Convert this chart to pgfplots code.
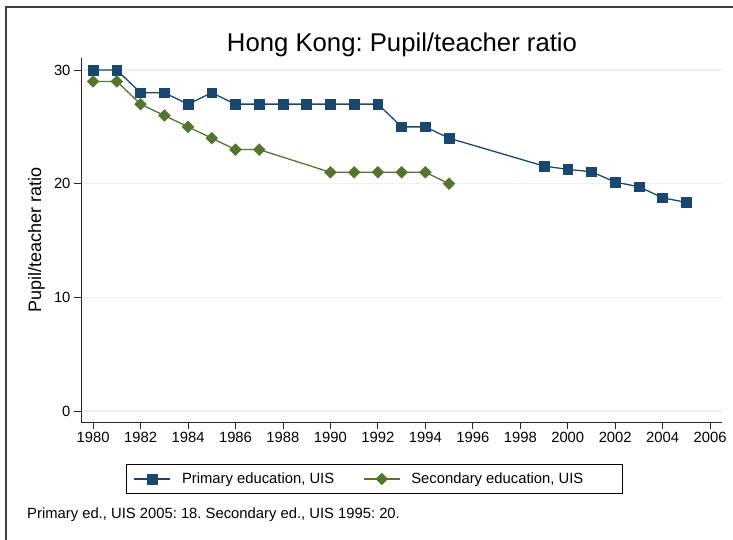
\documentclass[border=0pt]{standalone}
\usepackage{pgfplots}
\pgfplotsset{compat=1.18}
\usepackage{fontspec}
\setmainfont{Liberation Sans}
\frenchspacing
\definecolor{prim}{RGB}{26,71,111}
\definecolor{sec}{RGB}{85,117,47}
\definecolor{gridc}{RGB}{234,242,243}
\begin{document}
\frenchspacing
\begin{tikzpicture}[x=1pt,y=1pt]
\useasboundingbox (0,0) rectangle (733,540);
\draw[line width=1.2pt, black!75] (6,0) -- (6,533) -- (733,533);
\node[anchor=base, font=\fontsize{25.7}{30}\selectfont] at (402,488) {Hong Kong: Pupil/teacher ratio};
\node[anchor=base, rotate=90, font=\fontsize{18}{21}\selectfont] at (41,300) {Pupil/teacher ratio};
\node[anchor=base west, font=\fontsize{14.8}{17}\selectfont, inner sep=0pt] at (27,21) {Primary ed., UIS 2005: 18. Secondary ed., UIS 1995: 20.};
\begin{axis}[at={(81pt,118pt)}, anchor=south west, scale only axis,
  width=641pt, height=364pt,
  xmin=1979.49, xmax=2006.5, ymin=-0.97, ymax=31.06,
  axis x line*=bottom, axis y line*=left,
  axis line style={-, line width=0.8pt, black!85},
  xtick={1980,1982,...,2006}, ytick={0,10,20,30},
  x tick label style={/pgf/number format/1000 sep={}},
  tick align=outside, major tick length=7pt,
  tick style={line width=0.8pt, black!85},
  ymajorgrids, grid style={gridc, line width=1.2pt},
  tick label style={font=\fontsize{14.8}{17}\selectfont},
  /pgf/number format/assume math mode=true,
  legend columns=2,
  legend style={at={(0.458,-0.1566)}, anchor=center, draw=black, line width=0.8pt,
    inner xsep=7pt, inner ysep=8pt, font=\fontsize{14.8}{17}\selectfont,
    nodes={inner sep=0pt},
    /tikz/every odd column/.append style={column sep=11pt},
    /tikz/every even column/.append style={column sep=0pt}},
  legend image code/.code={\draw[mark repeat=2, mark phase=2, #1] plot coordinates {(0pt,0pt) (18pt,0pt) (36pt,0pt)};},
]
\addplot[prim, line width=1.3pt, mark=square*, mark size=4.9pt, mark options={solid, fill=prim, line width=0.6pt}] coordinates {
(1980,30) (1981,30) (1982,28) (1983,28) (1984,27) (1985,28) (1986,27) (1987,27) (1988,27) (1989,27) (1990,27) (1991,27) (1992,27) (1993,25) (1994,25) (1995,24) (1999,21.55) (2000,21.26) (2001,21.05) (2002,20.14) (2003,19.73) (2004,18.76) (2005,18.35)};
\addlegendentry{\makebox[181pt][l]{Primary education, UIS}}
\addplot[sec, line width=1.3pt, mark=square*, mark size=4.1pt, mark options={solid, rotate=45, fill=sec, line width=0.6pt}] coordinates {
(1980,29) (1981,29) (1982,27) (1983,26) (1984,25) (1985,24) (1986,23) (1987,23) (1990,21) (1991,21) (1992,21) (1993,21) (1994,21) (1995,20)};
\addlegendentry{\makebox[204pt][l]{Secondary education, UIS}}
\end{axis}
\end{tikzpicture}
\end{document}
